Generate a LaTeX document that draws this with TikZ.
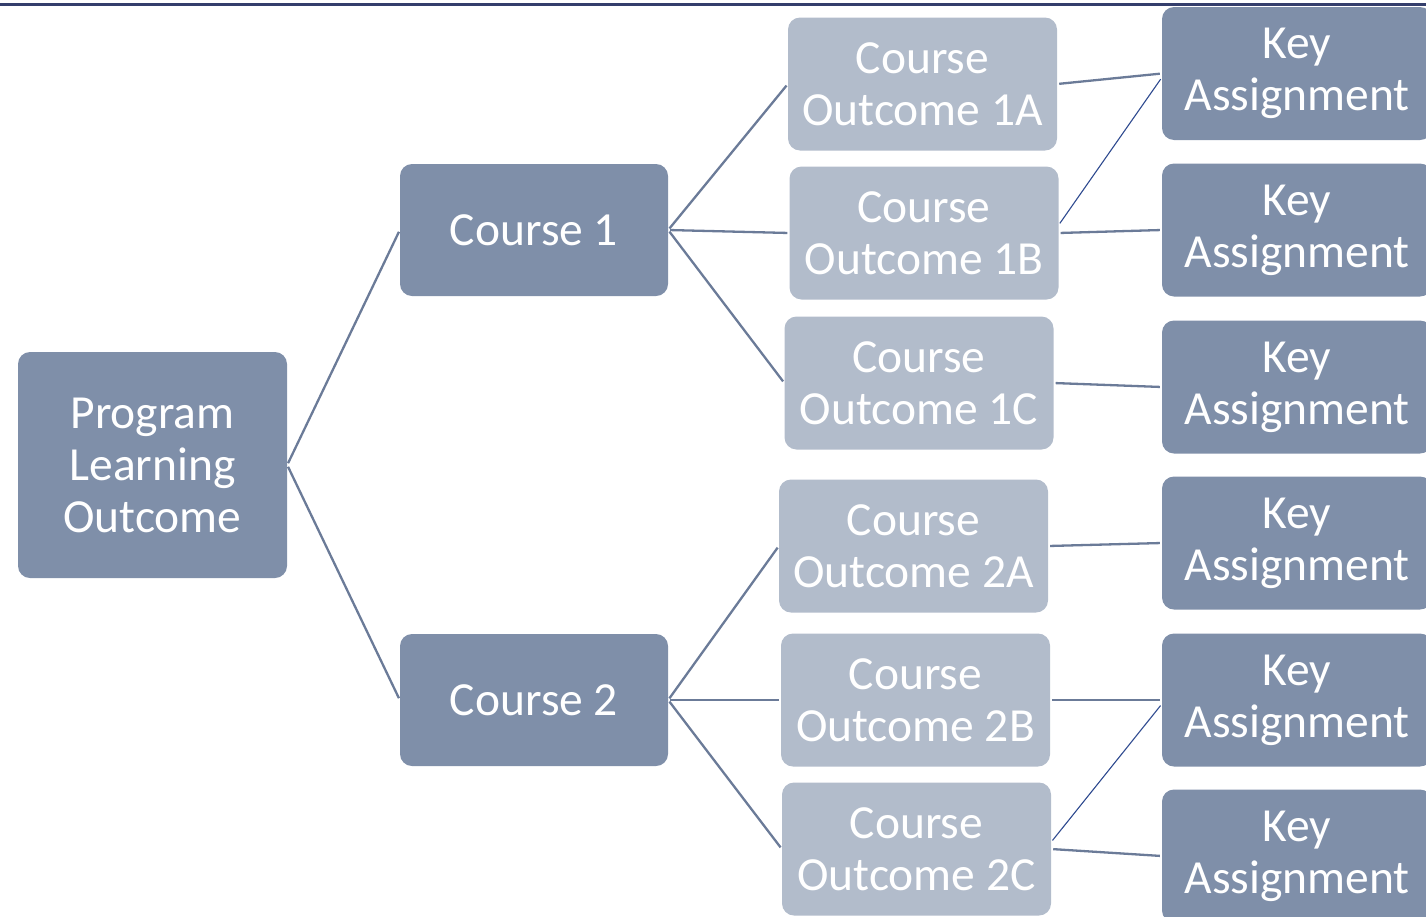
\documentclass[tikz,border=0pt]{standalone}
\usepackage{fontspec}
\setmainfont{Carlito}
\definecolor{darkbox}{HTML}{7F8FA9}
\definecolor{lightbox}{HTML}{B2BCCB}
\definecolor{conn}{HTML}{6B7B98}
\definecolor{thinblue}{HTML}{2E4A8F}
\definecolor{topline}{HTML}{343E6C}
\begin{document}
\begin{tikzpicture}[x=1pt,y=-1pt,
  box/.style={rounded corners=12pt, text=white, align=center, inner sep=0pt,
    font=\fontsize{47.5}{52}\selectfont},
  dbox/.style={box, fill=darkbox, minimum width=269pt, minimum height=133pt},
  lbox/.style={box, fill=lightbox, minimum width=269pt, minimum height=133pt},
  kbox/.style={box, fill=darkbox, minimum width=270pt, minimum height=133pt},
  link/.style={draw=conn, line width=2.3pt, shorten <=2pt, shorten >=2pt},
  thinlink/.style={draw=thinblue, line width=1.1pt, shorten <=2pt, shorten >=2pt}]
\useasboundingbox (0,0) rectangle (1426,916);
\clip (0,0) rectangle (1426,916);
\draw[topline, line width=3pt] (0,4) -- (1426,4);

\node[dbox, minimum height=226pt] (plo) at (152.5,465) {Program\\Learning\\Outcome};
\node[dbox, minimum width=268pt, minimum height=132pt] (c1) at (534,230) {Course 1};
\node[dbox, minimum width=268pt, minimum height=132pt] (c2) at (534,700) {Course 2};

\node[lbox] (co1a) at (922.5,84) {Course\\Outcome 1A};
\node[lbox] (co1b) at (924,233) {Course\\Outcome 1B};
\node[lbox] (co1c) at (919,383) {Course\\Outcome 1C};
\node[lbox] (co2a) at (913.5,546) {Course\\Outcome 2A};
\node[lbox] (co2b) at (915.5,700) {Course\\Outcome 2B};
\node[lbox] (co2c) at (916.5,849) {Course\\Outcome 2C};

\node[kbox] (ka1) at (1297,73.5) {Key\\Assignment};
\node[kbox] (ka2) at (1297,230) {Key\\Assignment};
\node[kbox] (ka3) at (1297,387) {Key\\Assignment};
\node[kbox] (ka4) at (1297,543) {Key\\Assignment};
\node[kbox] (ka5) at (1297,700) {Key\\Assignment};
\node[kbox] (ka6) at (1297,856) {Key\\Assignment};

\path[link] (plo.east) -- (c1.west);
\path[link] (plo.east) -- (c2.west);
\path[link] (c1.east) -- (co1a.west);
\path[link] (c1.east) -- (co1b.west);
\path[link] (c1.east) -- (co1c.west);
\path[link] (c2.east) -- (co2a.west);
\path[link] (c2.east) -- (co2b.west);
\path[link] (c2.east) -- (co2c.west);
\path[link] (co1a.east) -- (ka1.west);
\path[link] (co1b.east) -- (ka2.west);
\path[link] (co1c.east) -- (ka3.west);
\path[link] (co2a.east) -- (ka4.west);
\path[link] (co2b.east) -- (ka5.west);
\path[link] (co2c.east) -- (ka6.west);
\path[thinlink] ([yshift=8pt]co1b.east) -- ([yshift=-4pt]ka1.west);
\path[thinlink] ([yshift=7pt]co2c.east) -- ([yshift=-4pt]ka5.west);
\end{tikzpicture}
\end{document}
